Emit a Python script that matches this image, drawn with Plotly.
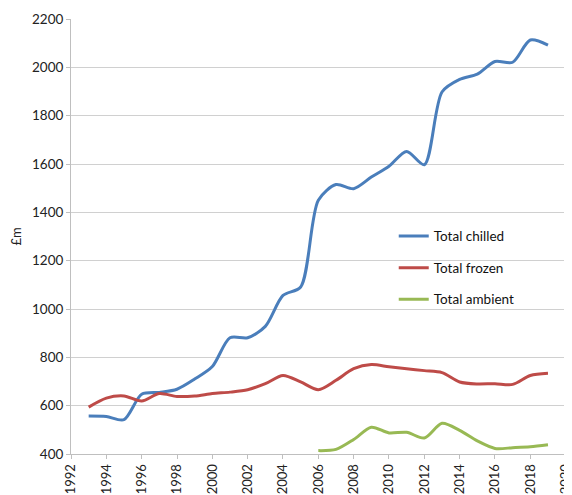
import plotly.graph_objects as go

years_chilled = list(range(1993, 2020))
chilled = [557, 555, 542, 647, 655, 668, 710, 762, 881, 881, 928, 1056, 1091,
           1450, 1515, 1498, 1546, 1591, 1652, 1597, 1898, 1950, 1972, 2024, 2021, 2113, 2092]

years_frozen = list(range(1993, 2020))
frozen = [594, 631, 640, 619, 650, 638, 640, 650, 656, 666, 691, 725, 698,
          666, 705, 753, 770, 761, 753, 745, 737, 698, 690, 691, 688, 725, 734]

years_ambient = list(range(2006, 2020))
ambient = [414, 419, 460, 511, 487, 490, 466, 527, 498, 454, 423, 426, 430, 438]

names = ["Total chilled", "Total frozen", "Total ambient"]
colors = ["#4A7EBB", "#BE4B48", "#98B954"]

fig = go.Figure()
for i, (xs, ys) in enumerate([(years_chilled, chilled), (years_frozen, frozen), (years_ambient, ambient)]):
    fig.add_trace(go.Scatter(
        x=xs, y=ys, mode="lines", name=names[i], legendgroup=names[i],
        line=dict(color=colors[i], width=3, shape="spline", smoothing=0.8),
    ))

font = "Lato, 'Open Sans', sans-serif"
# page body has an 8px default margin, so the figure is sized to fit the window
fig.update_layout(
    width=564, height=487,
    margin=dict(l=63, r=6, t=11, b=41),
    paper_bgcolor="white", plot_bgcolor="white",
    font=dict(family=font, size=13, color="#222"),
    showlegend=True,
    legend=dict(x=0.652, y=0.536, xanchor="left", yanchor="top",
                bgcolor="rgba(0,0,0,0)", font=dict(size=13.5, family=font, color="#111"),
                traceorder="grouped", tracegroupgap=11, itemwidth=30),
    xaxis=dict(range=[1992, 2020.02], tick0=1992, dtick=2, tickangle=-90,
               showgrid=False, showline=True, linecolor="#bfbfbf", linewidth=1,
               ticks="outside", ticklen=4, tickcolor="#bfbfbf", zeroline=False,
               automargin=False, ticklabeloverflow="allow", tickfont=dict(size=13)),
    yaxis=dict(range=[400, 2200], dtick=200, showgrid=True, gridcolor="#d0d0d0",
               showline=True, linecolor="#bfbfbf", linewidth=1,
               ticks="outside", ticklen=4, tickcolor="#bfbfbf", zeroline=False,
               automargin=False,
               title=dict(text="£m", standoff=14, font=dict(size=13)),
               tickfont=dict(size=13.5)),
)

fig.write_html("out.html")
